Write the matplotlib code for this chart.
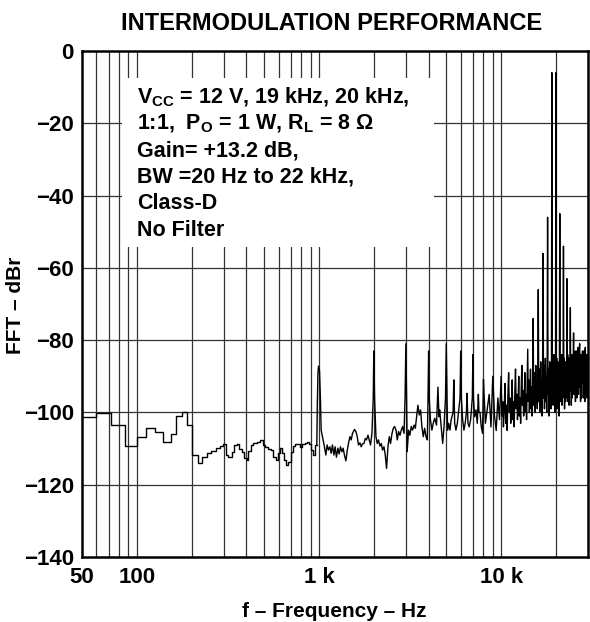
import matplotlib
matplotlib.use('Agg')
import matplotlib.pyplot as plt
from matplotlib.patches import Rectangle
from matplotlib.ticker import NullLocator

plt.rcParams['font.family'] = ['Liberation Sans', 'DejaVu Sans']
plt.rcParams['font.weight'] = 'bold'
plt.rcParams['mathtext.fontset'] = 'custom'
plt.rcParams['mathtext.rm'] = 'Liberation Sans:bold'
plt.rcParams['mathtext.it'] = 'Liberation Sans:bold'
plt.rcParams['mathtext.bf'] = 'Liberation Sans:bold'

# low band, FFT bins drawn as steps (Hz, dBr)
low_f = [50, 60, 72, 86, 100, 112, 126, 139, 154, 164, 177, 189, 202, 216,
         229, 242, 256, 271, 286, 299, 309, 318, 332, 343, 354, 366, 377,
         390, 402, 410, 422, 437, 456, 475, 490, 506, 528, 546, 562, 580,
         594, 610, 625, 641, 658, 680, 698, 716, 740, 765, 789, 812, 833,
         858, 883, 906, 933, 953, 973]
low_db = [-101.2, -100.2, -103.6, -109.2, -106.7, -104.2, -105.3, -108.2,
          -106.1, -100.9, -99.8, -103.6, -111.8, -113.9, -112.2, -111.3,
          -110.6, -109.9, -109.3, -108.7, -111.8, -112.4, -110.9, -109.0,
          -108.6, -110.2, -110.9, -112.7, -113.2, -110.6, -109.0, -108.4,
          -108.1, -107.5, -109.0, -109.5, -110.2, -110.4, -112.2, -113.2,
          -111.1, -109.9, -111.3, -113.2, -114.6, -113.7, -110.9, -109.3,
          -108.7, -108.7, -109.5, -108.7, -108.4, -108.1, -108.7, -110.4,
          -111.8, -109.0, -109.0]

# 1 kHz to 8 kHz (Hz, dBr)
mid_f = [973, 980, 987, 994, 1007, 1019, 1028, 1045, 1072, 1091, 1109, 1127,
         1148, 1167, 1186, 1208, 1227, 1247, 1270, 1291, 1312, 1336, 1358,
         1380, 1406, 1429, 1452, 1479, 1503, 1528, 1567, 1596, 1622, 1648,
         1679, 1706, 1734, 1766, 1795, 1824, 1858, 1888, 1919, 1954, 1986,
         2000, 2020, 2055, 2089, 2123, 2161, 2198, 2234, 2275, 2312, 2350,
         2393, 2432, 2472, 2518, 2559, 2600, 2649, 2692, 2735, 2786, 2831,
         2877, 2931, 2970, 3000, 3028, 3050, 3105, 3155, 3211, 3266, 3327,
         3381, 3436, 3493, 3556, 3614, 3673, 3741, 3802, 3873, 3936, 3970,
         4000, 4030, 4093, 4170, 4240, 4320, 4420, 4500, 4560, 4600, 4650,
         4700, 4780, 4860, 4950, 5000, 5050, 5080, 5150, 5240, 5320, 5450,
         5500, 5560, 5650, 5750, 5950, 6000, 6050, 6150, 6250, 6350, 6450,
         6500, 6580, 6680, 6800, 6950, 7000, 7050, 7160, 7280, 7400, 7500,
         7560, 7660, 7780, 7910, 7970, 8000]
mid_db = [-109.0, -97.0, -89.2, -87.2, -88.5, -96.5, -104.9, -106.7, -109.5,
          -111.8, -109.0, -110.4, -109.5, -111.3, -109.0, -111.8, -109.5,
          -112.4, -109.9, -111.5, -109.5, -110.9, -109.9, -111.8, -113.4,
          -110.6, -108.6, -106.7, -107.6, -105.8, -104.7, -105.3, -106.7,
          -109.0, -108.4, -109.5, -108.7, -108.6, -107.2, -107.6, -106.3,
          -107.6, -109.0, -105.8, -96.0, -83.0, -96.0, -106.7, -108.6,
          -107.6, -109.3, -108.6, -110.4, -109.5, -111.8, -115.5, -109.5,
          -106.7, -108.6, -105.8, -104.4, -103.9, -104.9, -107.6, -105.3,
          -106.3, -104.9, -103.9, -105.8, -96.0, -81.0, -96.0, -110.9,
          -104.9, -106.3, -103.9, -104.9, -103.5, -104.4, -101.2, -98.0,
          -100.7, -99.3, -103.9, -106.7, -104.4, -106.7, -107.6, -96.0,
          -83.0, -96.0, -102.0, -104.9, -103.0, -101.6, -103.5, -93.0,
          -101.2, -99.3, -102.0, -104.9, -108.6, -103.9, -96.0, -81.0,
          -96.0, -104.9, -103.0, -104.9, -102.0, -100.0, -91.0, -103.0,
          -104.9, -103.0, -96.0, -83.0, -96.0, -102.0, -104.9, -103.0,
          -100.0, -94.7, -103.0, -104.0, -102.0, -96.0, -84.0, -96.0,
          -101.2, -99.3, -103.0, -95.0, -100.0, -100.0, -103.9, -105.8,
          -97.0, -91.0]

# 8 kHz to 30 kHz, tones at 19 kHz and 20 kHz (Hz, dBr)
hi_f = [8200, 8400, 8600, 8800, 9000, 9200, 9400, 9600, 9800,
        10000, 10100, 10200, 10300, 10400, 10500, 10600, 10700, 10800, 10900,
        11000, 11100, 11200, 11300, 11400, 11500, 11600, 11700, 11800, 11900,
        12000, 12100, 12200, 12300, 12400, 12500, 12600, 12700, 12800, 12900,
        13000, 13100, 13200, 13300, 13400, 13500, 13600, 13700, 13800, 13900,
        14000, 14100, 14200, 14300, 14400, 14500, 14600, 14700, 14800, 14900,
        15000, 15100, 15200, 15300, 15400, 15500, 15600, 15700, 15800, 15900,
        16000, 16100, 16200, 16300, 16400, 16500, 16600, 16700, 16800, 16900,
        17000, 17100, 17200, 17300, 17400, 17500, 17600, 17700, 17800, 17900,
        18000, 18100, 18200, 18300, 18400, 18500, 18600, 18700, 18800, 18900,
        19000, 19100, 19200, 19300, 19400, 19500, 19600, 19700, 19800, 19900,
        20000, 20100, 20200, 20300, 20400, 20500, 20600, 20700, 20800, 20900,
        21000, 21100, 21200, 21300, 21400, 21500, 21600, 21700, 21800, 21900,
        22000, 22100, 22200, 22300, 22400, 22500, 22600, 22700, 22800, 22900,
        23000, 23100, 23200, 23300, 23400, 23500, 23600, 23700, 23800, 23900,
        24000, 24100, 24200, 24300, 24400, 24500, 24600, 24700, 24800, 24900,
        25000, 25100, 25200, 25300, 25400, 25500, 25600, 25700, 25800, 25900,
        26000, 26100, 26200, 26300, 26400, 26500, 26600, 26700, 26800, 26900,
        27000, 27100, 27200, 27300, 27400, 27500, 27600, 27700, 27800, 27900,
        28000, 28100, 28200, 28300, 28400, 28500, 28600, 28700, 28800, 28900,
        29000, 29100, 29200, 29300, 29400, 29500, 29600, 29700, 29800, 29900,
        30000]
hi_db = [-103, -99, -95, -104, -90, -101, -105, -96, -102,
         -90, -101, -97, -104, -99, -92, -103, -98, -105, -95,
         -89, -100, -96, -103, -98, -91, -102, -97, -104, -94,
         -88, -99, -95, -102, -97, -90, -101, -96, -103, -93,
         -87, -98, -94, -101, -96, -89, -100, -95, -102, -92,
         -82.5, -97, -91, -100, -95, -88, -99, -93, -101, -90,
         -74, -98, -89, -96, -100, -87, -97, -92, -99, -89,
         -66, -97, -88, -100, -94, -86, -98, -91, -101, -88,
         -56, -96, -87, -99, -93, -85, -97, -90, -100, -87,
         -46, -95, -88, -101, -92, -86, -96, -89, -99, -88,
         -6, -94, -86, -98, -91, -84, -97, -89, -100, -87,
         -6, -95, -85, -99, -90, -86, -96, -88, -101, -86,
         -45, -94, -86, -97, -90, -84, -98, -89, -96, -88,
         -54, -95, -85, -99, -89, -86, -97, -88, -95, -86,
         -63, -96, -84, -97, -90, -85, -98, -87, -94, -87,
         -71, -94, -85, -98, -88, -84, -96, -87, -93, -84,
         -78, -95, -86, -93, -87, -83, -97, -86, -92, -83,
         -84, -96, -85, -94, -88, -82, -95, -87, -91, -82,
         -81, -93, -86, -97, -87, -84, -96, -85, -92, -84,
         -83, -92, -85, -96, -88, -83, -94, -86, -97, -83,
         -82, -95, -86, -91, -87, -84, -96, -85, -93, -84,
         -90]

x_grid = [60, 70, 80, 90, 100, 200, 300, 400, 500, 600, 700, 800, 900,
          1000, 2000, 3000, 4000, 5000, 6000, 7000, 8000, 9000, 10000, 20000]
x_ticks = [50, 100, 1000, 10000]
x_labels = ['50', '100', '1 k', '10 k']
y_ticks = [-140, -120, -100, -80, -60, -40, -20, 0]
y_labels = ['\u2212140', '\u2212120', '\u2212100', '\u221280', '\u221260',
            '\u221240', '\u221220', '0']

note_lines = [r'V$_{\mathrm{CC}}$ = 12 V, 19 kHz, 20 kHz,',
              r'1:1,  P$_{\mathrm{O}}$ = 1 W, R$_{\mathrm{L}}$ = 8 $\Omega$',
              'Gain= +13.2 dB,',
              'BW =20 Hz to 22 kHz,',
              'Class-D',
              'No Filter']

fig = plt.figure(figsize=(5.9, 6.22), dpi=100)
ax = fig.add_axes([82 / 590, 1 - 557 / 622, 506 / 590, 506 / 622])
ax.set_xscale('log')
ax.set_xlim(50, 30000)
ax.set_ylim(-140, 0)

# grid
for f in x_grid:
    ax.axvline(f, color='#333333', lw=0.9, zorder=0.5)
for y in y_ticks[1:-1]:
    ax.axhline(y, color='#333333', lw=0.9, zorder=0.5)

# white box behind the notes
ax.add_patch(Rectangle((0.079, 0.613), 0.617, 0.334, transform=ax.transAxes,
                       facecolor='white', edgecolor='none', zorder=1))

# spectrum
ax.plot(low_f, low_db, color='black', lw=1.0, drawstyle='steps-post',
        zorder=3)
ax.plot(mid_f, mid_db, color='black', lw=1.0, zorder=3)
ax.plot([mid_f[-1]] + hi_f, [mid_db[-1]] + hi_db, color='black', lw=1.0,
        zorder=3)

ax.xaxis.set_minor_locator(NullLocator())
ax.set_xticks(x_ticks, x_labels)
ax.set_yticks(y_ticks, y_labels)
ax.tick_params(length=0, labelsize=16)
ax.tick_params(axis='x', pad=7)
ax.tick_params(axis='y', pad=6)
for lab in ax.get_xticklabels() + ax.get_yticklabels():
    lab.set_fontweight('bold')
for s in ax.spines.values():
    s.set_linewidth(1.8)

for i, line in enumerate(note_lines):
    ax.text(0.1087, 0.8972 - i * 0.0526, line, transform=ax.transAxes,
            fontsize=15.5, fontweight='bold', va='baseline', ha='left',
            zorder=4)

fig.text(331.5 / 590, 1 - 30.5 / 622, 'INTERMODULATION PERFORMANCE',
         ha='center', va='baseline', fontsize=17, fontweight='bold')
fig.text(334 / 590, 1 - 617 / 622, 'f \u2013 Frequency \u2013 Hz',
         ha='center', va='baseline', fontsize=15, fontweight='bold')
fig.text(16 / 590, 1 - 305 / 622, 'FFT \u2013 dBr', rotation=90,
         ha='center', va='center', fontsize=15, fontweight='bold')

fig.savefig('out.png', dpi=100)
